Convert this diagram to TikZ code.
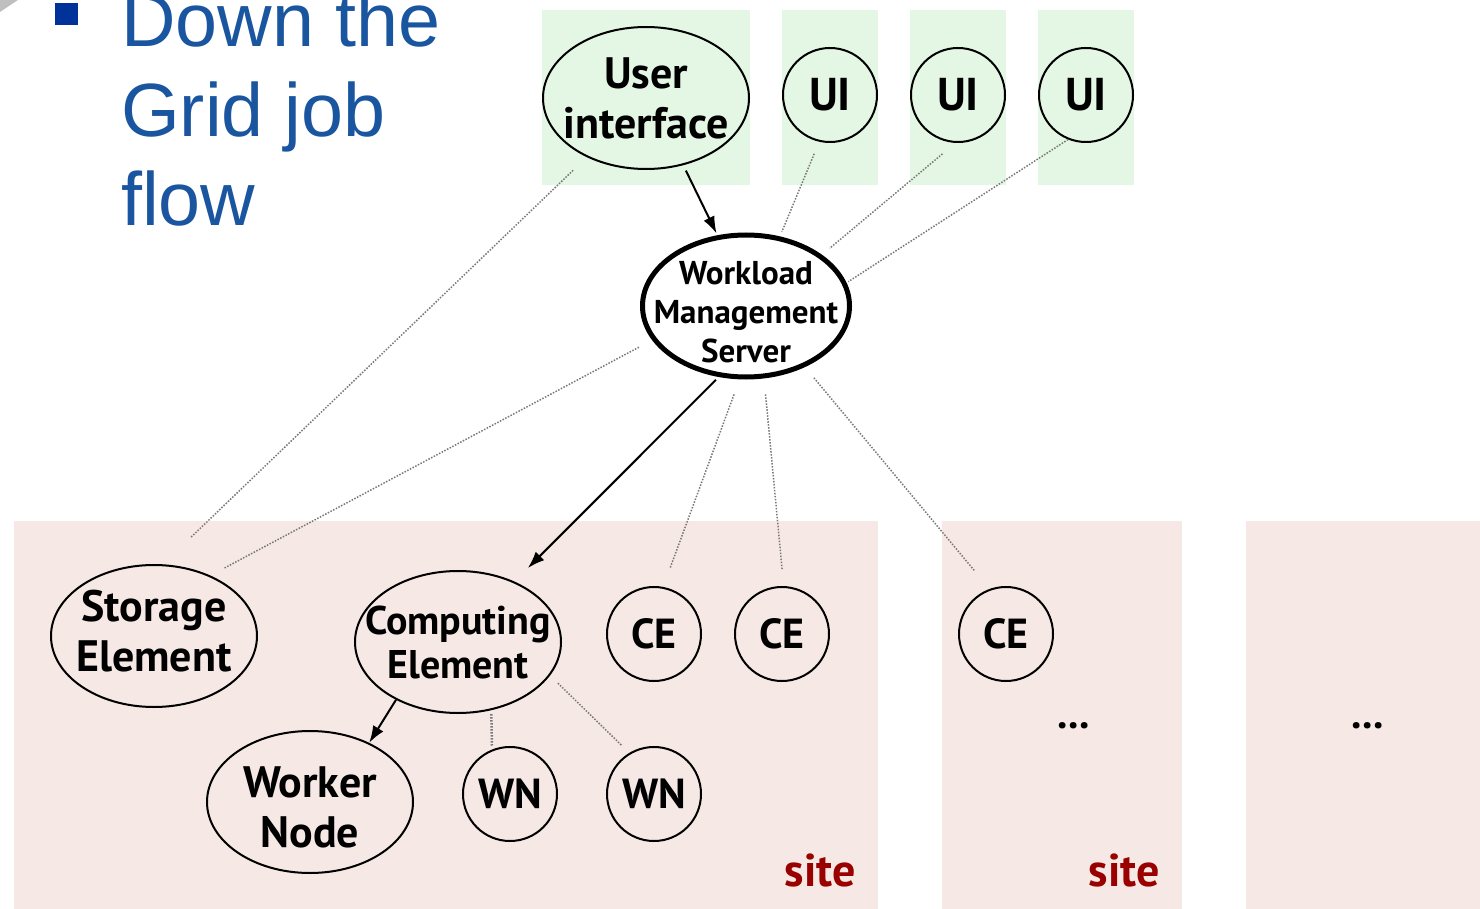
\documentclass[tikz,border=0pt]{standalone}
\usepackage{fontspec}
\setmainfont{PT Sans}
\newfontfamily\titlefont{Liberation Sans}
\usetikzlibrary{arrows.meta,shapes.geometric}
\definecolor{titleblue}{RGB}{26,85,160}
\definecolor{bulletblue}{RGB}{0,51,153}
\definecolor{uigreen}{RGB}{228,246,228}
\definecolor{sitepink}{RGB}{246,233,229}
\definecolor{sitered}{RGB}{153,0,0}
\definecolor{dotgray}{RGB}{120,120,120}
\tikzset{
  ell/.style={ellipse, draw, line width=2pt, minimum width=206pt, minimum height=142pt,
    inner sep=-40pt, align=center, font=\bfseries\fontsize{44}{50}\selectfont},
  circ/.style={circle, draw, line width=2pt, minimum size=94pt, inner sep=-20pt,
    font=\bfseries\fontsize{46}{50}\selectfont},
  wmsnode/.style={ellipse, draw, line width=5pt, minimum width=207pt, minimum height=142pt,
    inner sep=-40pt, align=center, font=\bfseries\fontsize{33}{39}\selectfont},
  arr/.style={line width=2pt, -{Latex[length=17pt,width=12pt]}},
  dotline/.style={draw=dotgray, line width=1.5pt, dash pattern=on 1.5pt off 1.5pt},
  panel/.style={fill=uigreen, draw=none},
  sitebox/.style={fill=sitepink, draw=none},
  sitelabel/.style={text=sitered, font=\bfseries\fontsize{46}{50}\selectfont, inner sep=0pt, anchor=base east},
  more/.style={font=\bfseries\fontsize{42}{44}\selectfont, inner sep=0pt, anchor=base}
}
\begin{document}
\begin{tikzpicture}[x=1pt,y=-1pt]
\useasboundingbox (0,0) rectangle (1480,909);
% backgrounds
\fill[gray!50] (0,0) -- (18,0) -- (0,12) -- cycle;
\fill[panel] (542,10) rectangle (750,185);
\fill[panel] (782,10) rectangle (878,185);
\fill[panel] (910,10) rectangle (1006,185);
\fill[panel] (1038,10) rectangle (1134,185);
\fill[sitebox] (14,521) rectangle (878,909);
\fill[sitebox] (942,521) rectangle (1182,909);
\fill[sitebox] (1246,521) rectangle (1480,909);
% title
\fill[bulletblue] (55,3) rectangle (78,25);
\node[anchor=base west, align=left, inner sep=0pt, text=titleblue,
  font=\titlefont\fontsize{75.5}{89.5}\selectfont] (title) at (121,226) {Down the\\Grid job\\flow};
% nodes
\node[ell] (ui) at (646,98) {User\\interface};
\node[circ] (ui1) at (830,95) {UI};
\node[circ] (ui2) at (958,95) {UI};
\node[circ] (ui3) at (1086,95) {UI};
\node[wmsnode] (wms) at (746,306) {\rule{0pt}{36pt}Workload\\Management\\Server};
\node[ell] (se) at (154,636) {Storage\\Element\rule[-10pt]{0pt}{10pt}};
\node[ell, font=\bfseries\fontsize{40}{44}\selectfont] (ce) at (458,642) {Computing\\Element};
\node[ell] (wk) at (310,802) {\rule{0pt}{42pt}Worker\\Node};
\node[circ, font=\bfseries\fontsize{42}{46}\selectfont] (ce1) at (654,634) {CE};
\node[circ, font=\bfseries\fontsize{42}{46}\selectfont] (ce2) at (782,634) {CE};
\node[circ, font=\bfseries\fontsize{42}{46}\selectfont] (ce3) at (1006,634) {CE};
\node[circ, font=\bfseries\fontsize{42}{46}\selectfont] (wn1) at (510,794) {WN};
\node[circ, font=\bfseries\fontsize{42}{46}\selectfont] (wn2) at (654,794) {WN};
\node[sitelabel] (site1) at (856,886) {site};
\node[sitelabel] (site2) at (1160,886) {site};
\node[more] (more1) at (1074,728) {...};
\node[more] (more2) at (1368,728) {...};
% solid arrows
\draw[arr, shorten <=6pt, shorten >=2pt] (ui.299) -- (wms.112);
\draw[arr, shorten <=4pt, shorten >=19pt] (wms.249) -- (ce.47);
\draw[arr] (ce.223.5) -- (wk.45);
% dotted links
\draw[dotline, shorten <=19pt, shorten >=38pt] (ui.225) -- (se.83);
\draw[dotline, shorten <=13pt, shorten >=5pt] (ui1.257) -- (wms.64);
\draw[dotline, shorten <=17pt, shorten >=10pt] (ui2.267) -- (wms.34);
\draw[dotline, shorten <=0pt, shorten >=2pt] (ui3.248) -- (wms.13);
\draw[dotline, shorten <=15pt, shorten >=16pt] (wms.200) -- (se.47);
\draw[dotline, shorten <=16pt, shorten >=20pt] (wms.265) -- (ce1.79);
\draw[dotline, shorten <=16pt, shorten >=16pt] (wms.284.5) -- (ce2.88);
\draw[dotline, shorten <=14pt, shorten >=24pt] (wms.314) -- (ce3.110);
\draw[dotline, line width=2.5pt, shorten <=4pt, shorten >=4pt] (ce.296.6) -- (wn1.112);
\draw[dotline, shorten <=11pt, shorten >=10pt] (ce.340) -- (wn2.121);
\end{tikzpicture}
\end{document}
